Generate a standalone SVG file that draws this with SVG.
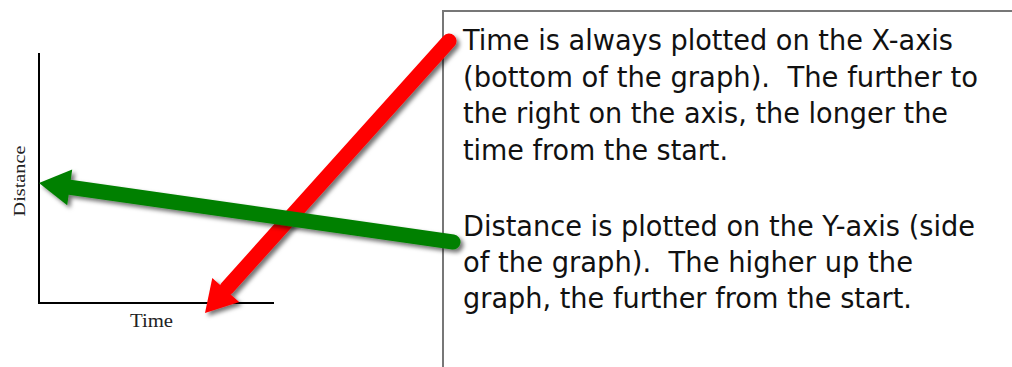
<svg xmlns="http://www.w3.org/2000/svg" width="1012" height="367" viewBox="0 0 1012 367">
  <style>
    .axis { stroke: #000; stroke-width: 2; fill: none; }
    .serif { font-family: "Liberation Serif", "DejaVu Serif", serif; fill: #222; }
    .body { font-family: "DejaVu Sans", "Liberation Sans", sans-serif; font-size: 28.5px; fill: #111; white-space: pre; }
    .box { fill: #fff; stroke: #777; stroke-width: 2; }
  </style>
  <defs>
    <filter id="shadow" x="-20%" y="-20%" width="140%" height="140%">
      <feDropShadow dx="3" dy="3" stdDeviation="2" flood-color="#000" flood-opacity="0.55"/>
    </filter>
  </defs>
  <rect width="1012" height="367" fill="#fff"/>

  <g id="graph">
    <line class="axis" x1="39" y1="53" x2="39" y2="304"/>
    <line class="axis" x1="38" y1="303" x2="274" y2="303"/>
    <text class="serif" font-size="17" text-anchor="middle" textLength="71" lengthAdjust="spacingAndGlyphs" transform="translate(25 181) rotate(-90)">Distance</text>
    <text class="serif" x="151.5" y="327" font-size="18" text-anchor="middle" textLength="43" lengthAdjust="spacingAndGlyphs">Time</text>
  </g>

  <g id="textbox">
    <path class="box" d="M443,367 L443,11 L1012,11"/>
    <text class="body" xml:space="preserve"><tspan x="463" y="50" textLength="490" lengthAdjust="spacingAndGlyphs">Time is always plotted on the X-axis</tspan><tspan x="463" y="87" textLength="515" lengthAdjust="spacingAndGlyphs">(bottom of the graph).  The further to</tspan><tspan x="463" y="123" textLength="485" lengthAdjust="spacingAndGlyphs">the right on the axis, the longer the</tspan><tspan x="463" y="160" textLength="265" lengthAdjust="spacingAndGlyphs">time from the start.</tspan></text>
    <text class="body" xml:space="preserve"><tspan x="463" y="236" textLength="512" lengthAdjust="spacingAndGlyphs">Distance is plotted on the Y-axis (side</tspan><tspan x="463" y="272" textLength="450" lengthAdjust="spacingAndGlyphs">of the graph).  The higher up the</tspan><tspan x="463" y="308" textLength="449" lengthAdjust="spacingAndGlyphs">graph, the further from the start.</tspan></text>
  </g>

  <g id="connectors">
    <g id="red-arrow" filter="url(#shadow)">
      <line x1="449" y1="41" x2="227" y2="288" stroke="#ff0000" stroke-width="15" stroke-linecap="round"/>
      <polygon points="205,313 212.3,277.9 239.1,301.9" fill="#ff0000"/>
    </g>
    <g id="green-arrow" filter="url(#shadow)">
      <line x1="453" y1="242" x2="68" y2="187" stroke="#008000" stroke-width="15" stroke-linecap="round"/>
      <polygon points="39,183 72.2,169.6 67.2,205.2" fill="#008000"/>
    </g>
  </g>
</svg>
